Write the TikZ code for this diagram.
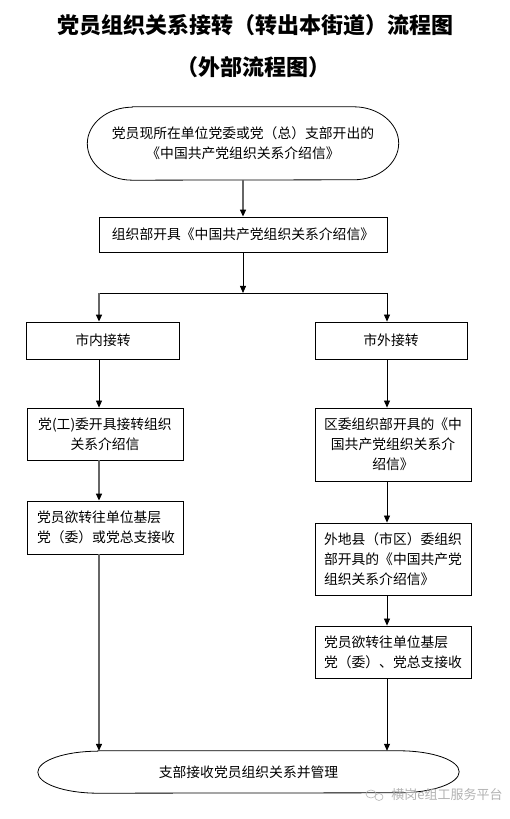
\documentclass[tikz,border=0pt]{standalone}
\usepackage{fontspec}
\setmainfont{Noto Sans CJK SC}
\usetikzlibrary{arrows.meta}

\begin{document}
\begin{tikzpicture}[x=1pt,y=1pt,
  box/.style={draw,line width=0.8pt,inner sep=0pt,font=\fontsize{13.8}{20}\selectfont},
  plain/.style={inner sep=0pt,font=\fontsize{13.8}{20}\selectfont},
  arr/.style={-{Triangle[length=7pt,width=6pt,color=black]},line width=0.8pt},
  arrgray/.style={arr,draw=black!60,line width=1.3pt}]
\useasboundingbox (0,0) rectangle (510,819);

% title
\node[font=\fontsize{22}{26}\selectfont\bfseries] (title) at (255,794) {党员组织关系接转（转出本街道）流程图};
\node[font=\fontsize{22}{26}\selectfont\bfseries] (subtitle) at (253,752) {（外部流程图）};

% top terminator
\node[plain,minimum width=311,minimum height=73,align=center] (start) at (243,675.5)
  {党员现所在单位党委或党（总）支部开出的\\《中国共产党组织关系介绍信》};
\draw[line width=0.8pt] ([xshift=45pt]start.north west) -- ([xshift=-45pt]start.north east)
  arc[start angle=90,end angle=-90,x radius=45pt,y radius=36.5pt]
  -- ([xshift=45pt]start.south west)
  arc[start angle=270,end angle=90,x radius=45pt,y radius=36.5pt] -- cycle;

\node[box,minimum width=288,minimum height=35] (org) at (243,584.5) {组织部开具《中国共产党组织关系介绍信》};

% fork
\coordinate (fork) at (243,526);
\coordinate (colL) at (99,526);
\coordinate (colR) at (387,526);

% left column
\node[box,minimum width=153,minimum height=37] (inner) at (103,478.5) {市内接转};
\node[box,minimum width=156,minimum height=52,text width=140,align=center] (left2) at (105,385)
  {党(工)委开具接转组织\\关系介绍信};
\node[box,minimum width=156,minimum height=53,text width=136,align=left] (left3) at (105,291.5)
  {党员欲转往单位基层\\党（委）或党总支接收};

% right column
\node[box,minimum width=152,minimum height=37] (outer) at (391,478.5) {市外接转};
\node[box,minimum width=156,minimum height=73,text width=140,align=center] (right2) at (393,374.5)
  {区委组织部开具的《中\\国共产党组织关系介\\绍信》};
\node[box,minimum width=156,minimum height=72,text width=138,align=left] (right3) at (393,260)
  {外地县（市区）委组织\\部开具的《中国共产党\\组织关系介绍信》};
\node[box,minimum width=156,minimum height=52,text width=138,align=left] (right4) at (393,167)
  {党员欲转往单位基层\\党（委）、党总支接收};

% bottom terminator
\node[plain,minimum width=421,minimum height=42] (finish) at (248.5,47) {支部接收党员组织关系并管理};
\draw[line width=0.8pt] ([xshift=60pt]finish.north west) -- ([xshift=-60pt]finish.north east)
  arc[start angle=90,end angle=-90,x radius=60pt,y radius=21pt]
  -- ([xshift=60pt]finish.south west)
  arc[start angle=270,end angle=90,x radius=60pt,y radius=21pt] -- cycle;

% connectors
\draw[arrgray] (start) -- (org);
\draw[arr] (org) -- (fork);
\draw[line width=0.8pt] (colL) -- (colR);
\draw[arrgray] (colL) -- (colL |- inner.north);
\draw[arr] (colR) -- (colR |- outer.north);
\draw[arr] (inner.south -| colL) -- (left2.north -| colL);
\draw[arrgray] (left2.south -| colL) -- (left3.north -| colL);
\draw[arrgray] (left3.south -| colL) -- (finish.north -| colL);
\draw[arr] (outer.south -| colR) -- (right2.north -| colR);
\draw[arr] (right2.south -| colR) -- (right3.north -| colR);
\draw[arr] (right3.south -| colR) -- (right4.north -| colR);
\draw[arr] (right4.south -| colR) -- (finish.north -| colR);

% watermark
\node[font=\fontsize{13}{15}\selectfont,text=black!30] (mark) at (447,24) {横岗e组工服务平台};
\draw[black!30,line width=0.6pt] (371,25) ellipse[x radius=5pt,y radius=4pt];
\draw[black!30,line width=0.6pt] (379,22) ellipse[x radius=4pt,y radius=3.5pt];
\end{tikzpicture}
\end{document}
